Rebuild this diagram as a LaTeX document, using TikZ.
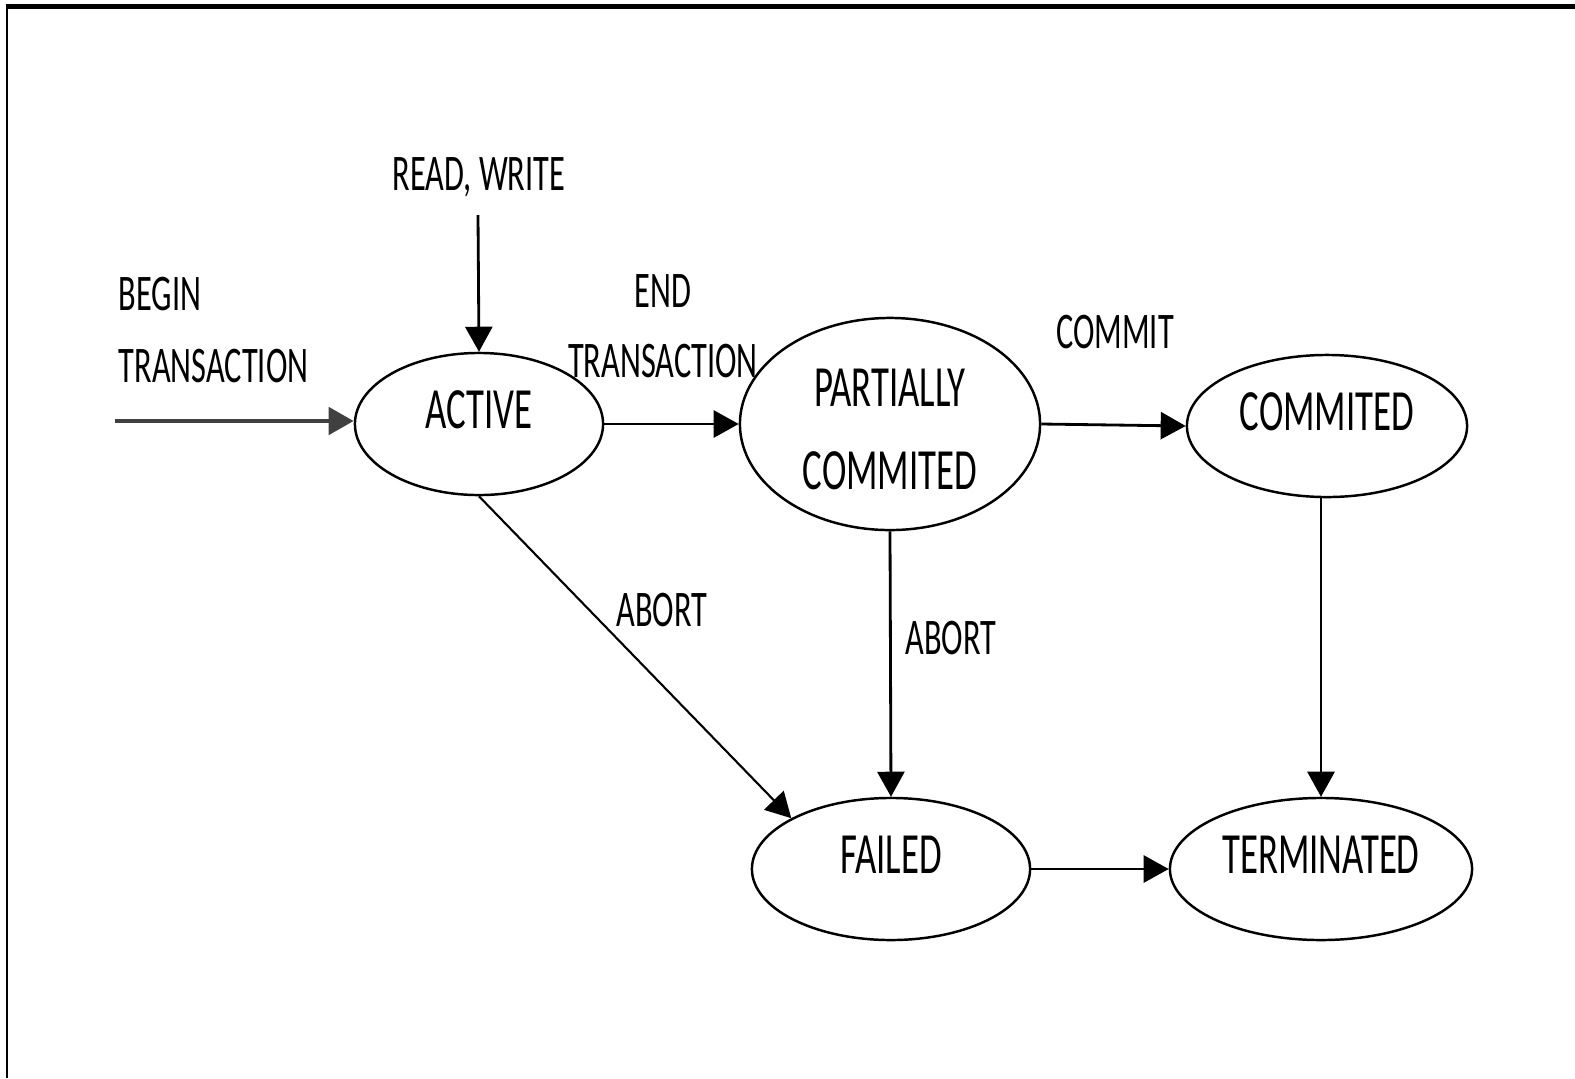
\documentclass[tikz,border=0pt]{standalone}
\usepackage{fontspec}
\setmainfont{Carlito}[FakeStretch=0.63]
\usepackage{tikz}
\usetikzlibrary{shapes,arrows,arrows.meta}
\tikzstyle{state} = [ellipse, draw, line width=0.7pt, inner sep=0pt, align=center, font=\fontsize{16.6}{23.6}\selectfont]
\tikzstyle{singlestate} = [state, text height=0.37cm, text depth=0.28cm]
\tikzstyle{lbl} = [inner sep=0pt, anchor=base, font=\fontsize{14.6}{17}\selectfont]
\tikzstyle{arrow} = [draw, -{Triangle[length=0.25cm, width=0.27cm]}, line width=0.8pt]

\begin{document}
\begin{tikzpicture}[x=0.01cm, y=-0.01cm]

    \useasboundingbox (0, 0) rectangle (1575, 1078);
    \draw[line width=0.05cm] (6, 6.5) -- (1575, 6.5);
    \draw[line width=0.025cm] (7, 4) -- (7, 1078);

    % states
    \node[singlestate, minimum width=2.48cm, minimum height=1.42cm] at (479, 424) (active) {ACTIVE};
    \node[state, minimum width=3cm, minimum height=2.12cm] at (890, 424) (partial) {\rule{0pt}{0.49cm}PARTIALLY\\COMMITED};
    \node[singlestate, minimum width=2.8cm, minimum height=1.42cm] at (1327, 426) (committed) {COMMITED};
    \node[singlestate, minimum width=2.78cm, minimum height=1.42cm] at (891, 869) (failed) {FAILED};
    \node[singlestate, minimum width=3.02cm, minimum height=1.42cm] at (1321, 869) (terminated) {TERMINATED};

    % incoming
    \coordinate (begin) at (115, 421);
    \node[lbl, anchor=base west] at (118, 310) (beginlbl) {BEGIN};
    \node[lbl, anchor=base west] at (118, 382) (begintr) {TRANSACTION};
    \path[arrow, line width=1.4pt, draw=black!75] (begin) to (begin -| active.west);

    \coordinate (rw) at (478, 215);
    \node[lbl] at (479, 190) (rwlbl) {READ, WRITE};
    \path[arrow] (rw) to (active.north);

    % transitions
    \node[lbl] at (663, 307) (endlbl) {END};
    \node[lbl] at (663, 377) (endtr) {TRANSACTION};
    \path[arrow] (active.east) to (partial.west);

    \node[lbl] at (1115, 348) (commitlbl) {COMMIT};
    \path[arrow] (partial.east) to (committed.west);

    \node[lbl] at (662, 626) (abort0) {ABORT};
    \path[arrow, line width=0.6pt] (active.south) to (failed.153);

    \node[lbl] at (951, 654) (abort1) {ABORT};
    \path[arrow] (partial.south) to (failed.north);

    \path[arrow] (terminated.north |- committed.south) to (terminated.north);
    \path[arrow] (failed.east) to (terminated.west);

\end{tikzpicture}
\end{document}
